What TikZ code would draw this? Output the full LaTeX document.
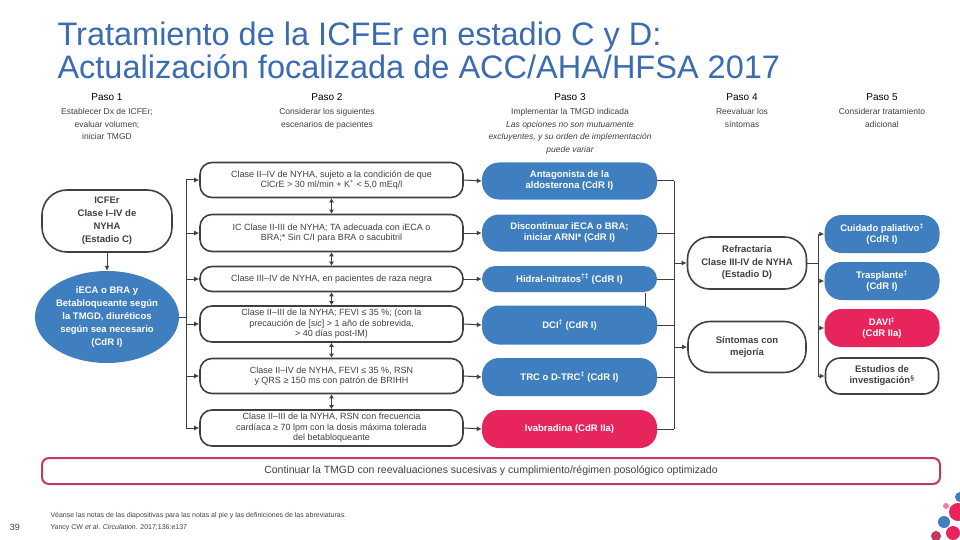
\documentclass[tikz,border=0pt]{standalone}
\usepackage{fontspec}
\setmainfont{Liberation Sans}
\usetikzlibrary{arrows.meta,shapes.geometric}
\definecolor{tblue}{RGB}{59,107,178}
\definecolor{nblue}{RGB}{63,127,191}
\definecolor{npink}{RGB}{232,36,92}
\definecolor{bpink}{RGB}{192,57,95}
\definecolor{dk}{RGB}{64,64,64}
\tikzset{
 wbox/.style={draw=dk,line width=1.6pt,rounded corners=15pt,fill=white,align=center,font=\fontsize{9}{10.5}\selectfont,text=dk,inner sep=1pt},
 bbox/.style={fill=nblue,rounded corners=17pt,align=center,font=\fontsize{9.5}{11}\selectfont\bfseries,text=white,inner sep=1pt},
 pbox/.style={bbox,fill=npink},
 ln/.style={draw=dk,line width=1pt},
 ar/.style={ln,-{Latex[length=5pt,width=5pt]}},
 dar/.style={ln,line width=1.6pt,{Latex[length=4pt,width=5pt]}-{Latex[length=4pt,width=5pt]}},
 hd/.style={font=\fontsize{10}{12}\selectfont,text=black},
 sub/.style={font=\fontsize{8.5}{12.5}\selectfont,text=dk,align=center}
}
\begin{document}
\begin{tikzpicture}[x=1pt,y=-1pt]
\useasboundingbox (0,0) rectangle (960,540);
\node[anchor=west,text=tblue,font=\fontsize{32.5}{33}\selectfont,align=left] (title) at (54,50) {Tratamiento de la ICFEr en estadio C y D:\\Actualización focalizada de ACC/AHA/HFSA 2017};
% headers
\node[hd] (p1) at (107,97) {Paso 1};
\node[hd] (p2) at (327,97) {Paso 2};
\node[hd] (p3) at (570,97) {Paso 3};
\node[hd] (p4) at (742,97) {Paso 4};
\node[hd] (p5) at (882,97) {Paso 5};
\node[sub,anchor=north] (s1) at (107,105) {Establecer Dx de ICFEr;\\evaluar volumen;\\iniciar TMGD};
\node[sub,anchor=north] (s2) at (327,105) {Considerar los siguientes\\escenarios de pacientes};
\node[sub,anchor=north] (s3) at (570,105) {Implementar la TMGD indicada\\\itshape Las opciones no son mutuamente\\\itshape excluyentes, y su orden de implementación\\\itshape puede variar};
\node[sub,anchor=north] (s4) at (742,105) {Reevaluar los\\síntomas};
\node[sub,anchor=north] (s5) at (882,105) {Considerar tratamiento\\adicional};
% step 1
\node[wbox,rounded corners=25pt,minimum width=130pt,minimum height=62pt,font=\fontsize{9.5}{13}\selectfont\bfseries] (icf) at (107,221) {ICFEr\\Clase I--IV de\\NYHA\\(Estadio C)};
\node[ellipse,fill=nblue,minimum width=134pt,minimum height=92pt,inner sep=0pt,align=center,text=white,font=\fontsize{9.5}{13}\selectfont\bfseries] (iec) at (107,317) {iECA o BRA y\\Betabloqueante según\\la TMGD, diuréticos\\según sea necesario\\(CdR I)};
\draw[ar] (icf) -- (iec);
% step 2
\foreach \n/\y/\h/\t in {a/180/35/{Clase II--IV de NYHA, sujeto a la condición de que\\ClCrE > 30 ml/min + K\textsuperscript{+} < 5,0 mEq/l},
 b/233/37/{IC Clase II-III de NYHA; TA adecuada con iECA o\\BRA;* Sin C/I para BRA o sacubitril},
 c/279/25/{Clase III--IV de NYHA, en pacientes de raza negra},
 d/324/36/{Clase II--III de la NYHA; FEVI ≤ 35 \%; (con la\\precaución de [\textit{sic}] > 1 año de sobrevida,\\> 40 días post-IM)},
 e/376/35/{Clase II--IV de NYHA, FEVI ≤ 35 \%, RSN\\y QRS ≥ 150 ms con patrón de BRIHH},
 f/428/36/{Clase II--III de la NYHA, RSN con frecuencia\\cardíaca ≥ 70 lpm con la dosis máxima tolerada\\del betabloqueante}}
 {\node[wbox,minimum width=263pt,minimum height=\h pt,rounded corners=12pt] (c2\n) at (331.5,\y) {\t};}
\coordinate (sp1) at (186,317);
\draw[ln] (iec.east) -- (sp1);
\draw[ln] (186,180) -- (186,428);
\foreach \n in {a,b,c,d,e,f} {\draw[ar] (186,0 |- c2\n.west) -- (c2\n.west);}
\draw[dar] (c2a) -- (c2b);
\draw[dar] (c2b) -- (c2c);
\draw[dar] (c2c) -- (c2d);
\draw[dar] (c2d) -- (c2e);
\draw[dar] (c2e) -- (c2f);
% step 3
\node[bbox,minimum width=175pt,minimum height=37pt] (c3a) at (569.5,181) {Antagonista de la\\aldosterona (CdR I)};
\node[bbox,minimum width=175pt,minimum height=37pt] (c3b) at (569.5,233) {Discontinuar iECA o BRA;\\iniciar ARNI* (CdR I)};
\node[bbox,minimum width=175pt,minimum height=26pt,rounded corners=13pt] (c3c) at (569.5,279) {Hidral-nitratos\textsuperscript{†‡} (CdR I)};
\node[bbox,minimum width=175pt,minimum height=39pt] (c3d) at (569.5,325) {DCI\textsuperscript{‡} (CdR I)};
\node[bbox,minimum width=175pt,minimum height=38pt] (c3e) at (569.5,377) {TRC o D-TRC\textsuperscript{‡} (CdR I)};
\node[pbox,minimum width=175pt,minimum height=38pt] (c3f) at (569.5,429) {Ivabradina (CdR IIa)};
\foreach \n in {a,b,c,d,e,f} {\draw[ar] (c2\n.east) -- (c3\n.west);}
\draw[ln] (645,293) -- (645,307);
\draw[ln] (674,181) -- (674,429);
\foreach \n in {a,b,c,d,e,f} {\draw[ln] (c3\n.east) -- (674,0 |- c3\n.east);}
% step 4
\node[wbox,minimum width=119pt,minimum height=52pt,rounded corners=22pt,font=\fontsize{9.5}{12.5}\selectfont\bfseries] (ref) at (747,263) {Refractaria\\Clase III-IV de NYHA\\(Estadio D)};
\node[wbox,minimum width=118pt,minimum height=51pt,rounded corners=22pt,font=\fontsize{9.5}{12.5}\selectfont\bfseries] (sin) at (747,347) {Síntomas con\\mejoría};
\draw[ar] (674,263) -- (ref.west);
\draw[ar] (674,347) -- (sin.west);
% step 5
\node[bbox,minimum width=115pt,minimum height=38pt] (c5a) at (882,234) {Cuidado paliativo\textsuperscript{‡}\\(CdR I)};
\node[bbox,minimum width=115pt,minimum height=38pt] (c5b) at (882,281) {Trasplante\textsuperscript{‡}\\(CdR I)};
\node[pbox,minimum width=115pt,minimum height=38pt] (c5c) at (882,328) {DAVI\textsuperscript{‡}\\(CdR IIa)};
\node[wbox,minimum width=113pt,minimum height=36pt,font=\fontsize{9.5}{11}\selectfont\bfseries] (c5d) at (882,376) {Estudios de\\investigación\textsuperscript{§}};
\draw[ln] (ref.east) -- (818,263);
\draw[ln] (818,234) -- (818,376);
\foreach \n in {a,b,c,d} {\draw[ar] (818,0 |- c5\n.west) -- (c5\n.west);}
% bottom bar
\node[draw=bpink,line width=2pt,rounded corners=7pt,minimum width=898pt,minimum height=26pt,font=\fontsize{10.5}{12}\selectfont,text=dk] (bar) at (491,471) {Continuar la TMGD con reevaluaciones sucesivas y cumplimiento/régimen posológico optimizado};
% footer
\node[font=\fontsize{9}{10}\selectfont,text=dk] (pg) at (15,527) {39};
\node[anchor=west,align=left,font=\fontsize{7}{12}\selectfont,text=dk] (fn) at (47,522) {Véanse las notas de las diapositivas para las notas al pie y las definiciones de las abreviaturas.\\Yancy CW \textit{et al}. \textit{Circulation}. 2017;136:e137};
% decorative dots
\fill[npink] (958,512) circle (9pt);
\fill[nblue] (944,522) circle (6pt);
\fill[npink] (953,533) circle (7pt);
\fill[bpink] (936,536) circle (5pt);
\fill[nblue] (960,497) circle (5pt);
\fill[npink!60] (946,506) circle (3pt);
\end{tikzpicture}
\end{document}
